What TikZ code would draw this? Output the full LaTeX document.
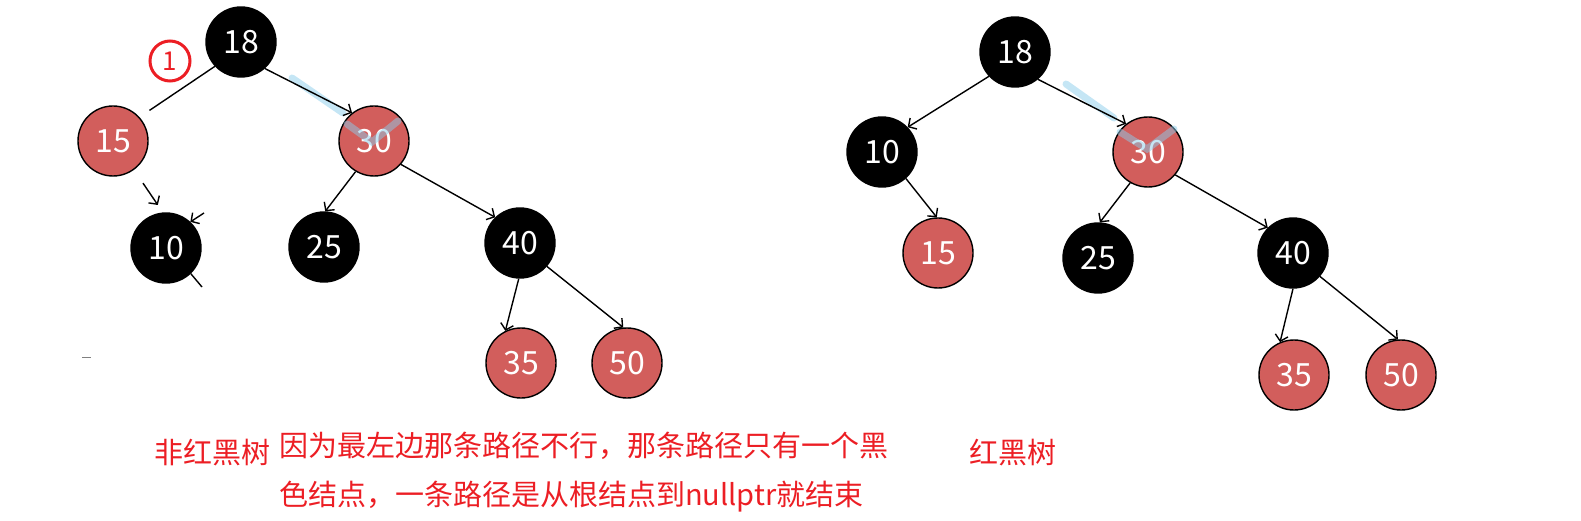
\documentclass[tikz,border=0pt]{standalone}
\usepackage{fontspec}
\setmainfont{Noto Sans CJK SC}
\usetikzlibrary{arrows.meta}

\definecolor{nodered}{RGB}{210,94,92}
\definecolor{textred}{RGB}{236,30,36}
\definecolor{marker}{RGB}{140,205,235}

\begin{document}
\begin{tikzpicture}[
    x=1pt, y=-1pt, % one unit per pixel, y downwards
    >={Straight Barb[length=6pt, width=13pt]}, % open arrow tips
    keynode/.style={circle, draw=black, line width=1.4pt, minimum size=70pt, inner sep=0pt, text=white, font=\fontsize{32}{32}\selectfont}, % tree node
    blacknode/.style={keynode, fill=black}, % black node
    rednode/.style={keynode, fill=nodered}, % red node
    edge/.style={->, line width=1.4pt}, % parent to child
    note/.style={text=textred, font=\fontsize{29}{49}\selectfont}, % red remarks
    smudge/.style={marker, line width=7pt, opacity=0.5, line cap=round} % highlighter marks
]
    \useasboundingbox (0,0) rectangle (1581,521);

    % --- Left tree (not a red-black tree) ---
    \node[blacknode] (l18) at (241,42) {18};
    \node[rednode]   (l15) at (113,141) {15};
    \node[rednode]   (l30) at (374,141) {30};
    \node[blacknode] (l10) at (166,248) {10};
    \node[blacknode] (l25) at (324,247) {25};
    \node[blacknode] (l40) at (520,243) {40};
    \node[rednode]   (l35) at (521,363) {35};
    \node[rednode]   (l50) at (627,363) {50};

    % highlighter marks over 30
    \draw[smudge] (292,78) -- (343,113);
    \draw[smudge] (347,124) -- (372,142) -- (398,121);

    \draw[line width=1.4pt, shorten >=12pt] (l18.223) -- (l15.42);
    \draw[edge] (l18.312) -- (l30.128);
    \draw[edge, shorten <=16pt, shorten >=9pt] (l15.306) -- (l10.95);
    \draw[edge] (l30.239) -- (l25.88);
    \draw[edge] (l30.319) -- (l40.134);
    \draw[edge] (l40.268) -- (l35.116);
    \draw[edge] (l40.319) -- (l50.96);

    % stray strokes next to 10
    \coordinate (tailA) at (204,213);
    \coordinate (tailB) at (202,287);
    \draw[edge] (tailA) -- (l10.47);
    \draw[line width=1.4pt] (l10.-46) -- (tailB);
    \draw[gray, line width=1pt] (82,357) -- (91,357);

    % circled mark
    \node[circle, draw=textred, line width=3pt, minimum size=40pt, inner sep=0pt, text=textred, font=\fontsize{26}{26}\selectfont] (mark) at (170,61) {1};

    % --- Right tree (red-black tree) ---
    \node[blacknode] (r18) at (1015,52) {18};
    \node[blacknode] (r10) at (882,152) {10};
    \node[rednode]   (r30) at (1148,152) {30};
    \node[rednode]   (r15) at (938,253) {15};
    \node[blacknode] (r25) at (1098,258) {25};
    \node[blacknode] (r40) at (1293,253) {40};
    \node[rednode]   (r35) at (1294,375) {35};
    \node[rednode]   (r50) at (1401,375) {50};

    \draw[smudge] (1066,84) -- (1114,118);
    \draw[smudge] (1120,132) -- (1147,149) -- (1174,129);

    \draw[edge] (r18.223) -- (r10.44);
    \draw[edge] (r18.310) -- (r30.128);
    \draw[edge] (r10.312) -- (r15.92);
    \draw[edge] (r30.240) -- (r25.87);
    \draw[edge] (r30.320) -- (r40.135);
    \draw[edge] (r40.270) -- (r35.113);
    \draw[edge] (r40.319) -- (r50.95);

    % --- Remarks ---
    \node[note, anchor=west] (left label) at (151,453) {非红黑树};
    \node[note, anchor=north west, align=left, inner sep=0pt] (reason) at (279,432)
        {因为最左边那条路径不行，那条路径只有一个黑\\色结点，一条路径是从根结点到nullptr就结束};
    \node[note, anchor=west] (right label) at (966,453) {红黑树};

\end{tikzpicture}
\end{document}
